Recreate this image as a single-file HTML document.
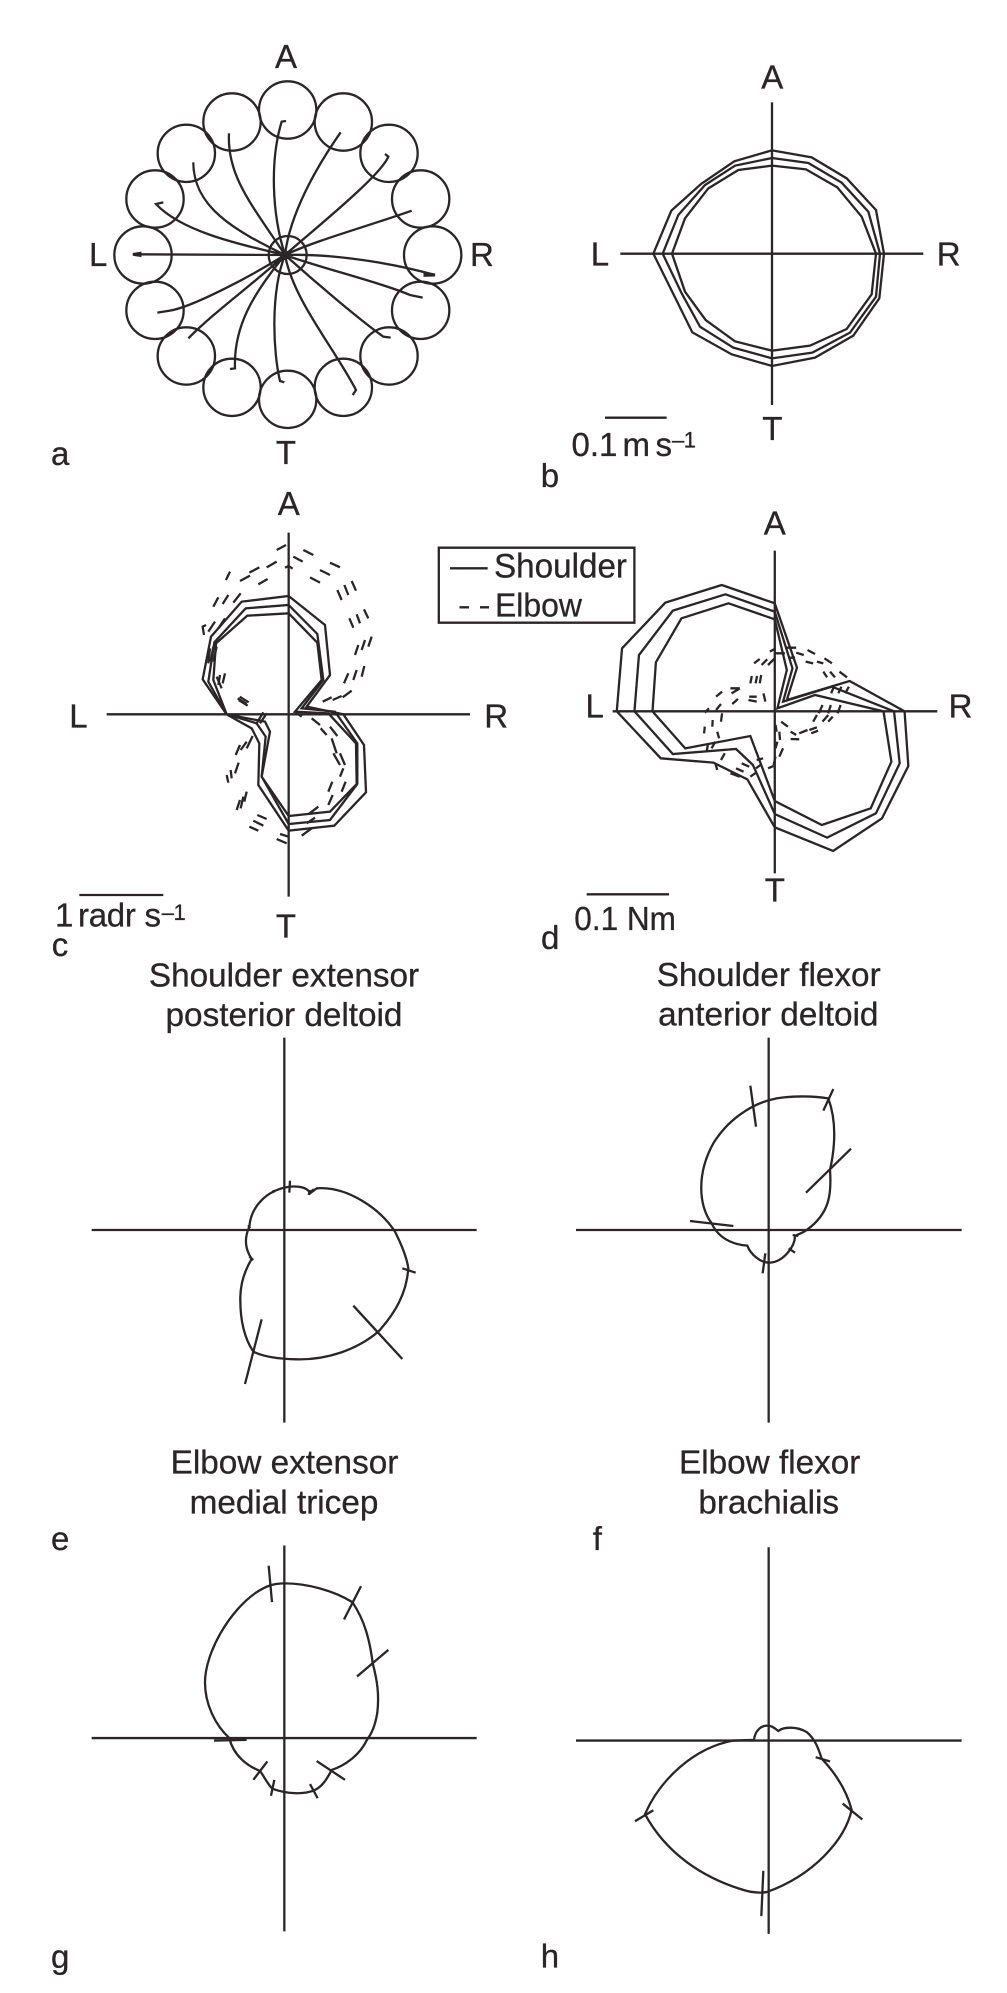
<!DOCTYPE html>
<html><head><meta charset="utf-8"><title>Diagram</title>
<style>
html,body{margin:0;padding:0;background:#fff}
svg{display:block}
svg *{vector-effect:non-scaling-stroke}
path,circle,polygon,line,rect{fill:none;stroke:#2a2627;stroke-width:2.3;stroke-linejoin:miter}
text{font-family:"Liberation Sans",sans-serif;font-size:33px;fill:#2a2627;stroke:#2a2627;stroke-width:.3}
.m{text-anchor:middle}
.t{font-size:33.3px;text-anchor:middle}
.s{font-size:22px}
</style></head><body>
<svg width="1007" height="1993" viewBox="0 0 1007 1993" xmlns="http://www.w3.org/2000/svg">
<rect x="0" y="0" width="1007" height="1993" style="fill:#fff;stroke:none"/>

<!-- Panel a -->
<g transform="scale(.33333)">
<circle cx="863" cy="330" r="86"/><circle cx="1030" cy="366" r="86"/><circle cx="1167" cy="460" r="86"/><circle cx="1262" cy="597" r="86"/><circle cx="1298" cy="765" r="86"/><circle cx="1262" cy="931" r="86"/><circle cx="1167" cy="1068" r="86"/><circle cx="1030" cy="1162" r="86"/><circle cx="863" cy="1198" r="86"/><circle cx="696" cy="1162" r="86"/><circle cx="559" cy="1068" r="86"/><circle cx="465" cy="931" r="86"/><circle cx="429" cy="765" r="86"/><circle cx="465" cy="597" r="86"/><circle cx="559" cy="460" r="86"/><circle cx="696" cy="366" r="86"/>
<circle cx="863" cy="765" r="57"/>
<path d="M855 765C815 640 810 480 845 365L858 363M855 765C870 640 950 500 1022 397M855 765C940 690 1140 530 1165 470L1155 462M855 765C950 720 1100 680 1235 632M855 765C1000 760 1180 790 1305 825M855 765C950 800 1150 850 1230 885L1268 893M855 765C950 850 1080 960 1150 1010L1172 1013M855 765C880 900 1000 1040 1068 1170L1058 1185M855 765C810 880 820 1060 840 1143L853 1147M855 765C760 880 700 980 705 1105L690 1107M855 765C750 860 650 930 565 1015M855 765C750 830 580 920 510 932L472 938M855 765L398 763M855 765C700 730 540 690 468 612L490 607M855 765C700 690 580 620 580 487M855 765C760 620 680 530 687 400"/>
<path d="M840 765L870 765M855 750L855 780M845 755L865 775M845 775L865 755M400 763L420 760L420 766ZM1275 820L1305 825L1275 826Z" style="stroke-width:3"/>
</g>
<text class="m" x="286" y="68">A</text>
<text x="89" y="266">L</text>
<text x="470" y="266">R</text>
<text class="m" x="286" y="464">T</text>
<text x="51" y="465">a</text>

<!-- Panel b -->
<g transform="translate(500,0) scale(.33333)">
<path d="M816 307V1215M361 761H1270"/>
<polygon points="816,451 935,472 1040,535 1128,630 1152,761 1138,895 1060,1007 945,1073 816,1098 695,1063 577,997 460,761 514,632 603,552 703,484"/>
<polygon points="816,474 925,489 1025,548 1105,635 1140,761 1128,890 1050,998 937,1058 816,1075 700,1043 600,980 545,880 488,761 535,645 615,555 705,497"/>
<polygon points="816,497 918,508 1012,562 1085,650 1128,761 1115,883 1040,987 930,1037 816,1052 705,1024 617,960 555,875 516,761 555,655 625,565 715,510"/>
<path d="M315 1253H500"/>
</g>
<text class="m" x="772.3" y="88.3">A</text>
<text x="590.7" y="265.7">L</text>
<text x="936.7" y="265.7">R</text>
<text class="m" x="772.3" y="440">T</text>
<text x="571.5" y="456">0.1</text><text x="622.5" y="456">m</text><text x="655.5" y="456">s</text><text class="s" x="672" y="447.7" textLength="24">–1</text>
<text x="540.7" y="487">b</text>

<!-- Panel c -->
<g transform="translate(0,480) scale(.33333)">
<path d="M866 158V1250M320 703H1410"/>
<polygon points="866,348 975,435 990,585 920,680 1030,703 1092,795 1098,937 1003,1037 866,1052 775,915 778,790 755,745 680,703 608,598 633,470 725,365"/>
<polygon points="866,375 952,462 970,600 905,685 1005,695 1072,790 1072,912 990,1020 866,1032 785,890 797,770 770,730 680,703 625,605 643,487 737,385"/>
<polygon points="866,400 952,488 965,600 885,695 985,700 1068,790 1070,912 990,995 866,1008 785,890 810,755 795,725 680,703 640,600 648,490 742,407"/>
<path d="M858 195L830 210M748 278L778 262M720 303L750 287M800 262L830 245M775 313L803 297M855 263L866 258L878 266M880 230L908 245M910 210L940 225M990 248L1020 262M960 270L990 285M930 292L960 308M1012 330L1025 360M1033 315L1045 345M1055 303L1068 332M1048 415L1060 443M1070 403L1080 430M1092 388L1105 415M1065 525L1075 495M1085 510L1095 480M1105 500L1115 470M1032 610L1045 580M1060 600L1070 570M1085 590L1093 558M968 665L995 652M998 660L1025 648M1028 652L1055 632M690 275L678 300M640 380L655 352M668 372L685 345M700 368L722 340M612 465L608 440L618 435M625 455L645 425M655 445L675 415M630 505L625 550M640 500L632 545M650 500L640 545M650 590L665 625M660 585L655 615M675 580L668 610M713 655L740 672M716 660L743 677M719 650L746 667M790 697L770 730M800 700L780 730M885 695L905 710M935 715L960 735M962 745L980 765M990 740L1012 768M995 775L1010 820M1020 820L1035 855M1000 820L1020 855M1030 865L1020 890M985 935L997 905M1025 935L1037 905M985 975L998 945M925 1003L955 980M920 1030L945 1013M905 1067L935 1045M830 1077L860 1090M840 1062L866 1070M748 1040L775 1052M760 1022L790 1037M772 1005L800 1017M710 990L720 960M722 985L730 950M733 965L740 935M685 908L680 885M695 895L692 870M705 880L716 848M707 825L720 795M722 810L740 785M740 805L758 768"/>
<path d="M238 1245H490"/>
</g>
<text class="m" x="288.7" y="515">A</text>
<text x="69.3" y="727.3">L</text>
<text x="484.3" y="727.3">R</text>
<text class="m" x="286" y="937.7">T</text>
<text x="55" y="926.7">1</text><text x="78" y="926.7" textLength="83">radr s</text><text class="s" x="161.7" y="920" textLength="24">–1</text>
<text x="51.7" y="956">c</text>

<!-- Legend -->
<rect x="438.8" y="547.7" width="195.6" height="75"/>
<path d="M450 568.3H487.7M459.5 607.3H469M480 607.3H489"/>
<text x="494" y="577.3" textLength="133" lengthAdjust="spacingAndGlyphs" style="font-size:34px">Shoulder</text>
<text x="495" y="616.7" textLength="87" lengthAdjust="spacingAndGlyphs">Elbow</text>

<!-- Panel d -->
<g transform="translate(420,500) scale(.37622,.33333)">
<path d="M943 152V1120M512 634H1375"/>
<polygon points="943,310 1002,503 975,600 1142,543 1288,634 1298,798 1228,955 1098,1053 943,982 870,838 780,788 640,775 523,634 537,445 652,308 802,255"/>
<polygon points="943,335 990,505 965,605 1095,560 1260,634 1275,790 1212,940 1082,1013 943,942 885,795 840,747 672,762 570,634 582,465 672,332 812,283"/>
<polygon points="943,358 975,510 950,625 1050,585 1232,634 1253,785 1198,925 1068,975 943,903 878,708 705,745 618,634 627,487 695,355 820,310"/>
<path d="M930 455L945 445M975 443L1000 443M945 460L970 460M980 473L997 473M1000 458L1020 465M1030 450L1050 462M1025 485L1045 490M1055 485L1072 490M1075 475L1095 490M1072 515L1082 532M1090 515L1103 532M1115 515L1135 532M1100 560L1093 580M1120 560L1112 580M1140 560L1130 580M1070 615L1060 640M1092 615L1085 640M1118 615L1110 640M1045 665L1055 645M1070 665L1085 645M1085 665L1097 650M1035 690L1055 682M1008 700L1030 690M1040 700L1058 692M985 717L1008 718M985 695L1000 705M960 665L978 680M945 675L948 695M955 695L957 720M945 745L950 725M965 745L955 770M945 770L940 795M925 805L940 798M895 780L912 775M893 805L905 795M878 830L893 818M855 790L875 800M840 805L860 815M825 820L850 830M800 780L810 760M790 810L785 790M775 745L785 725M762 755L765 735M755 700L757 680M777 680L778 660M795 715L790 695M800 665L803 640M757 638L768 625M787 630L800 612M830 612L845 597M787 590L803 575M828 580L850 565M825 565L850 565M873 600L895 605M875 590L895 590M913 580L918 605M878 550L882 528M892 550L896 528M903 550L907 525M888 490L903 477M908 495L923 478M925 495L943 475"/>
<path d="M443 1183H662"/>
</g>
<text class="m" x="774.8" y="534.3">A</text>
<text x="585.5" y="717.3">L</text>
<text x="948.6" y="717.3">R</text>
<text class="m" x="774.8" y="901.7">T</text>
<text x="574.3" y="930" textLength="101.6" lengthAdjust="spacingAndGlyphs">0.1 Nm</text>
<text x="541" y="949">d</text>

<!-- Panel e -->
<text class="t" x="284" y="986.7">Shoulder extensor</text>
<text class="t" x="284" y="1026">posterior deltoid</text>
<g transform="translate(40,960) scale(.33333)">
<path d="M733 233V1388M155 810H1310"/>
<path d="M628 800C632 745 675 690 750 680C775 678 795 682 805 692L810 700L830 685C920 678 1020 745 1065 815C1085 855 1100 890 1105 925C1100 1000 1065 1060 1015 1115C950 1170 860 1200 770 1198C720 1197 670 1190 640 1175C610 1130 600 1070 601 1010C602 970 615 930 635 897C618 870 610 840 628 800Z"/>
<path d="M750 662L748 698M700 690L702 698M810 690L806 705M812 695L822 688M625 795L630 805M1087 925L1127 938M940 1037L1087 1197M665 1078L615 1272M628 890L640 900"/>
</g>

<!-- Panel f -->
<text class="t" x="768.7" y="986">Shoulder flexor</text>
<text class="t" x="768.3" y="1025.3">anterior deltoid</text>
<g transform="translate(520,960) scale(.33333)">
<path d="M746 233V1388M168 810H1325"/>
<path d="M682 857C655 855 600 845 575 790C535 735 530 640 580 550C620 485 690 430 770 415C820 407 880 408 925 415C945 470 950 540 930 630C935 700 930 760 860 810C850 818 835 822 825 828C825 860 790 905 750 908C720 910 690 880 682 857Z"/>
<path d="M691 377L708 500M940 387L910 452M993 566L858 698M510 783L640 798M736 880L728 940M806 865L825 878M818 825L835 828"/>
</g>
<text x="51" y="1550">e</text>
<text x="592.7" y="1550">f</text>

<!-- Panel g -->
<text class="t" x="284.5" y="1473.7">Elbow extensor</text>
<text class="t" x="284" y="1513.4">medial tricep</text>
<g transform="translate(40,1440) scale(.33333,.354)">
<path d="M733 298V1388M155 842H1310"/>
<path d="M568 842C525 805 495 745 495 685C495 600 570 480 650 430C680 412 700 405 735 405C800 405 880 425 937 458C975 510 990 570 998 630C1012 680 1018 720 1012 770C1005 810 995 830 982 845C960 890 915 920 875 932C860 960 845 980 822 990C790 1002 740 1000 697 985C685 975 672 950 660 935C620 920 580 890 568 842Z"/>
<path d="M686 355L696 458M963 413L912 507M1045 593L951 668M522 849L620 847M682 908L640 960M703 960L693 1005M810 972L833 1012M830 907L915 960"/>
</g>
<text x="51" y="1968">g</text>

<!-- Panel h -->
<text class="t" x="769.7" y="1473.7">Elbow flexor</text>
<text class="t" x="768.7" y="1513.4">brachialis</text>
<g transform="translate(520,1440) scale(.33333,.354)">
<path d="M746 303V1395M168 849H1325"/>
<path d="M640 849L702 847C705 820 725 805 745 807C760 808 768 818 775 822C790 810 830 808 860 825C885 845 895 870 905 900C945 940 980 990 995 1045C975 1130 880 1230 740 1277C720 1280 690 1278 660 1268C550 1235 440 1170 375 1057C420 960 520 870 640 849Z"/>
<path d="M887 896L930 908M968 1027L1027 1072M345 1077L400 1046M730 1217L724 1345"/>
</g>
<text x="540.7" y="1967.6">h</text>
</svg>
</body></html>
